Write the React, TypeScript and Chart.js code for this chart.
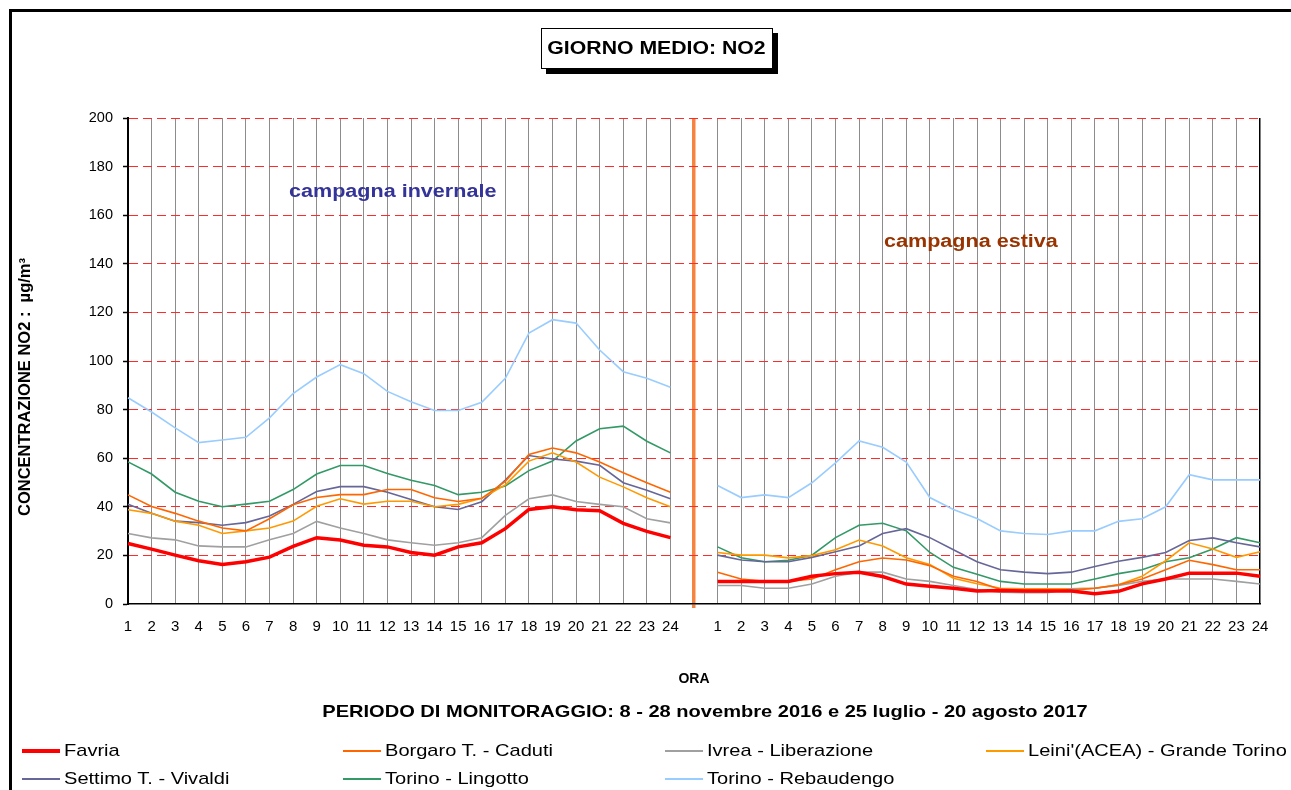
import React, { useEffect, useRef } from 'react';
import { Chart, registerables } from 'chart.js';

Chart.register(...registerables);

// ---------- DATA ----------
const ORE = ['1', '2', '3', '4', '5', '6', '7', '8', '9', '10', '11', '12', '13', '14', '15', '16', '17', '18', '19', '20', '21', '22', '23', '24'];

const STAZIONI = [
  'Favria',
  'Borgaro T. - Caduti',
  'Ivrea - Liberazione',
  "Leini'(ACEA) - Grande Torino",
  'Settimo T. - Vivaldi',
  'Torino - Lingotto',
  'Torino - Rebaudengo',
];

// campagna invernale (ore 1-24)
const favriaInv = [24.9, 22.6, 20.1, 17.8, 16.3, 17.4, 19.3, 23.7, 27.3, 26.3, 24.2, 23.5, 21.2, 20.1, 23.5, 25.2, 31.0, 38.9, 40.0, 38.8, 38.4, 33.2, 29.9, 27.3];
const borgaroInv = [44.9, 40.1, 37.3, 34.1, 31.3, 30.1, 35.1, 40.8, 43.8, 45.0, 45.0, 47.1, 47.1, 43.7, 42.2, 43.5, 50.5, 61.5, 64.2, 62.2, 58.4, 54.0, 49.9, 46.0];
const ivreaInv = [29.0, 27.2, 26.4, 23.9, 23.5, 23.5, 26.4, 29.0, 34.0, 31.3, 29.0, 26.4, 25.2, 24.2, 25.2, 27.3, 36.5, 43.3, 44.9, 42.2, 41.0, 40.0, 35.1, 33.4];
const leiniInv = [38.8, 37.3, 34.1, 32.4, 29.0, 30.1, 31.3, 34.1, 40.2, 43.3, 41.1, 42.3, 42.3, 40.0, 41.0, 43.5, 49.0, 58.8, 62.2, 58.4, 52.2, 48.2, 43.7, 40.0];
const settimoInv = [41.0, 37.3, 34.1, 33.5, 32.4, 33.5, 36.2, 41.0, 46.3, 48.3, 48.3, 46.0, 43.0, 40.0, 38.9, 42.1, 51.0, 61.1, 59.7, 58.8, 57.1, 49.9, 46.8, 43.3];
const lingottoInv = [58.5, 53.5, 46.0, 42.3, 40.0, 41.1, 42.3, 47.1, 53.5, 57.0, 57.0, 53.7, 50.9, 48.8, 45.0, 46.0, 48.6, 54.9, 58.8, 67.1, 72.1, 73.2, 67.0, 62.2];
const rebaudengoInv = [84.9, 79.0, 72.5, 66.4, 67.5, 68.6, 76.6, 86.6, 93.4, 98.5, 94.8, 87.5, 83.2, 79.6, 79.6, 83.0, 92.9, 111.5, 117.0, 115.6, 104.5, 95.6, 92.9, 89.2];

// campagna estiva (ore 1-24)
const favriaEst = [9.3, 9.3, 9.3, 9.3, 11.4, 12.5, 13.1, 11.3, 8.2, 7.3, 6.5, 5.4, 5.6, 5.3, 5.3, 5.3, 4.2, 5.2, 8.3, 10.3, 12.7, 12.7, 12.7, 11.4];
const borgaroEst = [13.1, 10.3, 9.3, 9.3, 10.3, 14.1, 17.4, 18.9, 18.1, 15.8, 11.4, 9.3, 6.0, 5.6, 5.6, 5.6, 6.5, 7.9, 10.3, 14.1, 18.0, 16.2, 14.1, 14.1];
const ivreaEst = [7.6, 7.6, 6.5, 6.5, 8.2, 11.4, 13.1, 13.1, 10.3, 9.3, 7.6, 6.0, 4.9, 4.6, 4.6, 6.3, 6.5, 7.6, 9.3, 10.3, 10.3, 10.3, 9.3, 8.2];
const leiniEst = [21.2, 20.1, 20.1, 19.0, 19.9, 22.3, 26.3, 23.9, 19.0, 16.3, 10.6, 8.3, 6.5, 6.3, 6.3, 6.3, 6.5, 7.9, 11.4, 17.8, 25.2, 22.6, 19.2, 21.5];
const settimoEst = [20.1, 18.1, 17.4, 17.4, 19.2, 21.5, 23.9, 29.0, 31.0, 27.3, 22.3, 17.4, 14.1, 13.1, 12.5, 13.1, 15.4, 17.6, 19.2, 21.2, 26.1, 27.2, 25.2, 23.5];
const lingottoEst = [23.5, 19.0, 17.4, 18.0, 20.1, 27.3, 32.4, 33.2, 30.1, 21.2, 15.1, 12.2, 9.3, 8.2, 8.2, 8.2, 10.3, 12.5, 14.1, 17.4, 19.0, 22.6, 27.3, 25.2];
const rebaudengoEst = [48.8, 43.8, 44.9, 43.8, 49.9, 58.1, 67.1, 64.5, 58.4, 43.8, 38.9, 35.2, 30.1, 29.0, 28.6, 30.1, 30.1, 34.0, 35.1, 40.0, 53.2, 51.1, 51.1, 51.1];

const INVERNO = [favriaInv, borgaroInv, ivreaInv, leiniInv, settimoInv, lingottoInv, rebaudengoInv];
const ESTATE = [favriaEst, borgaroEst, ivreaEst, leiniEst, settimoEst, lingottoEst, rebaudengoEst];

const Y_TICKS = [0, 20, 40, 60, 80, 100, 120, 140, 160, 180, 200];

// ---------- STYLE ----------
const COLORS = ['#FF0000', '#FF6600', '#A0A0A0', '#FF9900', '#666699', '#339966', '#99CCFF'];
const WIDTHS = [3.5, 1.6, 1.6, 1.6, 1.6, 1.6, 1.6];
const FONT = '"Liberation Sans", Arial, Helvetica, sans-serif';
const GAP_INDEX = ORE.length; // separator between campaigns
const SEP_COLOR = '#F4843F';

const LEGEND_COL_X = [64, 385, 707, 1028];
const LEGEND_ROW_Y = [751, 779];

export default function App() {
  const canvasRef = useRef<HTMLCanvasElement | null>(null);

  useEffect(() => {
    const labels = [...ORE, '', ...ORE];
    const lastIndex = labels.length - 1;
    Chart.defaults.font.family = FONT;
    const chart = new Chart(canvasRef.current as HTMLCanvasElement, {
      type: 'line',
      data: {
        labels,
        datasets: STAZIONI.map((name, i) => ({
          label: name,
          data: [...INVERNO[i], null, ...ESTATE[i]],
          borderColor: COLORS[i],
          backgroundColor: COLORS[i],
          borderWidth: WIDTHS[i],
          pointRadius: 0,
          pointHoverRadius: 0,
          tension: 0,
          fill: false,
          spanGaps: false,
        })),
      },
      options: {
        responsive: false,
        animation: false,
        layout: { padding: { top: 118, right: 31, left: 0, bottom: 0 } },
        plugins: {
          legend: { display: false },
          tooltip: { enabled: false },
          title: { display: false },
        },
        scales: {
          x: {
            type: 'category',
            offset: false,
            grid: {
              color: (c: any) => (c.index === GAP_INDEX ? SEP_COLOR : c.index === lastIndex ? '#000000' : '#8C8C8C'),
              lineWidth: (c: any) => (c.index === GAP_INDEX ? 3.5 : c.index === lastIndex ? 1.5 : 1),
              drawTicks: true,
              tickLength: 4,
              tickColor: (c: any) => (c.index === GAP_INDEX ? SEP_COLOR : 'rgba(0,0,0,0)'),
            },
            border: { color: '#000000', width: 1.5 },
            ticks: {
              autoSkip: false,
              maxRotation: 0,
              minRotation: 0,
              color: '#000000',
              font: { size: 15 },
              padding: 10,
            },
            afterFit: (s: any) => {
              s.height = 186;
            },
          },
          y: {
            min: 0,
            max: 200,
            afterBuildTicks: (s: any) => {
              s.ticks = Y_TICKS.map((v) => ({ value: v }));
            },
            ticks: { color: '#000000', font: { size: 14.5 }, padding: 10 },
            grid: {
              color: (c: any) => (c.index === 0 ? 'rgba(0,0,0,0)' : '#FF2A2A'),
              lineWidth: 1,
              tickColor: '#000000',
              tickLength: 5,
              tickWidth: 1.5,
            },
            border: { color: '#000000', width: 2, dash: [9, 5] },
            afterFit: (s: any) => {
              s.width = 128;
            },
          },
        },
      },
    });
    return () => chart.destroy();
  }, []);

  const stretch = (origin: string): React.CSSProperties => ({
    display: 'inline-block',
    transform: 'scaleX(1.18)',
    transformOrigin: origin,
  });

  return (
    <div
      style={{
        position: 'fixed',
        left: 0,
        top: 0,
        width: 1291,
        height: 790,
        background: '#ffffff',
        overflow: 'hidden',
        fontFamily: FONT,
        color: '#000',
      }}
    >
      <canvas ref={canvasRef} width={1291} height={790} style={{ position: 'absolute', left: 0, top: 0 }} />

      {/* frame */}
      <div
        style={{
          position: 'absolute',
          left: 9,
          top: 9,
          width: 1300,
          height: 800,
          borderTop: '3px solid #000',
          borderLeft: '3px solid #000',
          pointerEvents: 'none',
        }}
      />

      {/* title box */}
      <div
        style={{
          position: 'absolute',
          left: 541,
          top: 28,
          width: 230,
          height: 39,
          border: '1px solid #000',
          background: '#fff',
          boxShadow: '5px 5px 0 #000',
          display: 'flex',
          alignItems: 'center',
          justifyContent: 'center',
          fontWeight: 'bold',
          fontSize: 18,
          whiteSpace: 'nowrap',
        }}
      >
        <span style={stretch('center')}>GIORNO MEDIO: NO2</span>
      </div>

      {/* campaign labels */}
      <div style={{ position: 'absolute', left: 289, top: 180, fontWeight: 'bold', fontSize: 18.3, color: '#333399', whiteSpace: 'nowrap' }}>
        <span style={stretch('left center')}>campagna invernale</span>
      </div>
      <div style={{ position: 'absolute', left: 884, top: 230, fontWeight: 'bold', fontSize: 18.3, color: '#993300', whiteSpace: 'nowrap' }}>
        <span style={stretch('left center')}>campagna estiva</span>
      </div>

      {/* y axis title */}
      <div
        style={{
          position: 'absolute',
          left: 24,
          top: 387,
          transform: 'translate(-50%, -50%) rotate(-90deg)',
          fontWeight: 'bold',
          fontSize: 16.5,
          whiteSpace: 'nowrap',
        }}
      >
        CONCENTRAZIONE NO2 :&nbsp;&nbsp;µg/m³
      </div>

      {/* x axis title */}
      <div style={{ position: 'absolute', left: 694, top: 678, transform: 'translate(-50%, -50%)', fontWeight: 'bold', fontSize: 14, whiteSpace: 'nowrap' }}>
        ORA
      </div>
      <div style={{ position: 'absolute', left: 705, top: 712, transform: 'translate(-50%, -50%)', fontWeight: 'bold', fontSize: 17, whiteSpace: 'nowrap' }}>
        <span style={stretch('center')}>PERIODO DI MONITORAGGIO: 8 - 28 novembre 2016 e 25 luglio - 20 agosto 2017</span>
      </div>

      {/* legend */}
      {STAZIONI.map((name, i) => {
        const x = LEGEND_COL_X[i % 4];
        const y = LEGEND_ROW_Y[Math.floor(i / 4)];
        return (
          <React.Fragment key={name}>
            <div
              style={{
                position: 'absolute',
                left: x - 42,
                top: y - WIDTHS[i] / 2,
                width: 38,
                height: WIDTHS[i],
                background: COLORS[i],
              }}
            />
            <div style={{ position: 'absolute', left: x, top: y - 10, height: 20, lineHeight: '20px', fontSize: 17, whiteSpace: 'nowrap' }}>
              <span style={stretch('left center')}>{name}</span>
            </div>
          </React.Fragment>
        );
      })}
    </div>
  );
}
